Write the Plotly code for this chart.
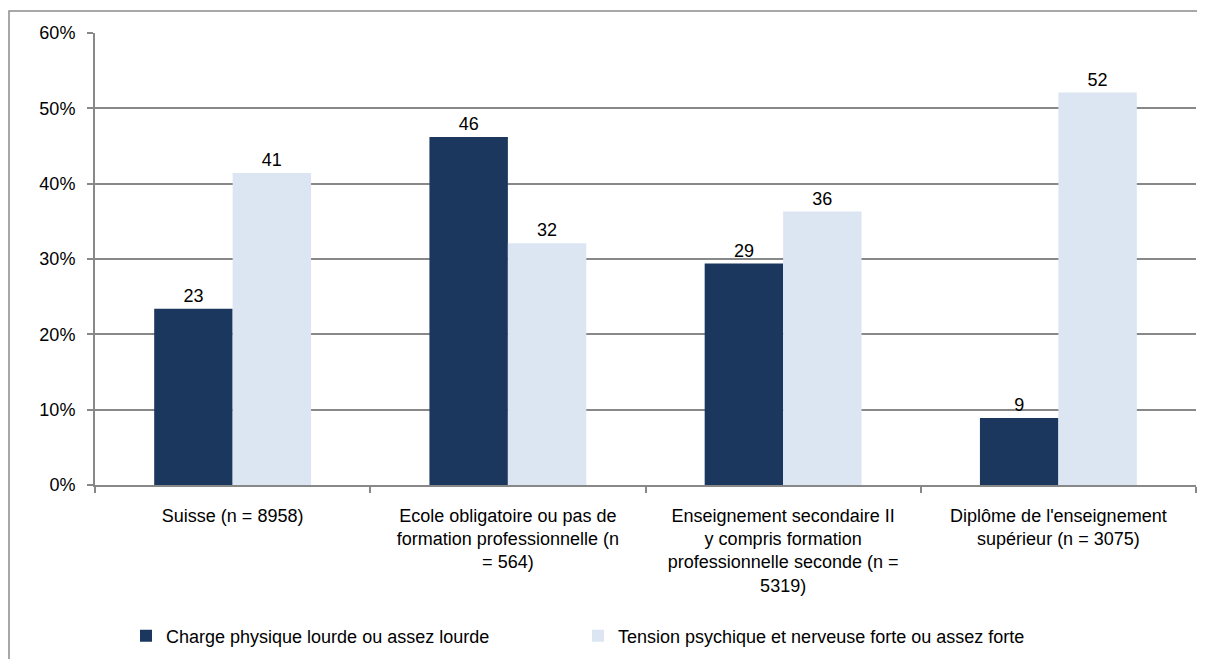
import plotly.graph_objects as go

categories = [
    "Suisse (n = 8958)",
    "Ecole obligatoire ou pas de<br>formation professionnelle (n<br>= 564)",
    "Enseignement secondaire II<br>y compris formation<br>professionnelle seconde (n =<br>5319)",
    "Diplôme de l'enseignement<br>supérieur (n = 3075)",
]
charge_physique = [23.4, 46.2, 29.4, 8.9]
tension_psychique = [41.4, 32.1, 36.3, 52.1]
series_names = [
    "Charge physique lourde ou assez lourde",
    "Tension psychique et nerveuse forte ou assez forte",
]
y_ticks = [0, 10, 20, 30, 40, 50, 60]
y_labels = [f"{v}%" for v in y_ticks]

# page has an 8px body margin, so the figure starts at (8, 8)
OFF = 8
W, H = 1205 - OFF, 659 - OFF
plot_left, plot_right, plot_top, plot_bottom = 95, 1196, 33, 485
L, R = plot_left - OFF, W - (plot_right - OFF)
T, B = plot_top - OFF, H - (plot_bottom - OFF)
pw, ph = W - L - R, H - T - B

font = dict(family="Liberation Sans, Arial, sans-serif", size=18, color="#000000")

fig = go.Figure()
for name, vals, col in zip(series_names, [charge_physique, tension_psychique],
                           ["#1B375E", "#DCE6F2"]):
    fig.add_trace(go.Bar(
        x=categories, y=vals, name=name,
        marker=dict(color=col, line=dict(width=0)),
        texttemplate="%{y:.0f}", textposition="outside",
        textfont=font, cliponaxis=False,
    ))


# page pixel -> paper fraction
def px_x(v):
    return (v - plot_left) / pw


def px_y(v):
    return (plot_bottom - v) / ph


fig.update_layout(
    width=W, height=H,
    margin=dict(l=L, r=R, t=T, b=B, autoexpand=False),
    paper_bgcolor="white", plot_bgcolor="white",
    font=font,
    barmode="group", bargap=0.43, bargroupgap=0,
    showlegend=True,
    legend=dict(
        orientation="h", x=px_x(126), y=px_y(636), yanchor="middle", xanchor="left",
        font=font, entrywidth=407, itemwidth=30,
    ),
    xaxis=dict(
        showline=True, linecolor="#888888", linewidth=2,
        ticks="outside", tickson="boundaries", ticklen=6, tickcolor="#888888", tickwidth=2,
        tickfont=font, showgrid=False, ticklabelstandoff=13,
    ),
    yaxis=dict(
        range=[0, 60], tickmode="array", tickvals=y_ticks, ticktext=y_labels,
        showline=True, linecolor="#888888", linewidth=2,
        ticks="outside", ticklen=6, tickcolor="#888888", tickwidth=2,
        showgrid=True, gridcolor="#888888", gridwidth=2,
        tickfont=font, zeroline=False, ticklabelstandoff=8,
    ),
    shapes=[dict(
        type="rect", xref="paper", yref="paper",
        x0=px_x(9), x1=px_x(1230), y0=px_y(690), y1=px_y(11),
        line=dict(color="#8C8C8C", width=1.5), layer="below",
    )],
)

fig.write_html("out.html")
